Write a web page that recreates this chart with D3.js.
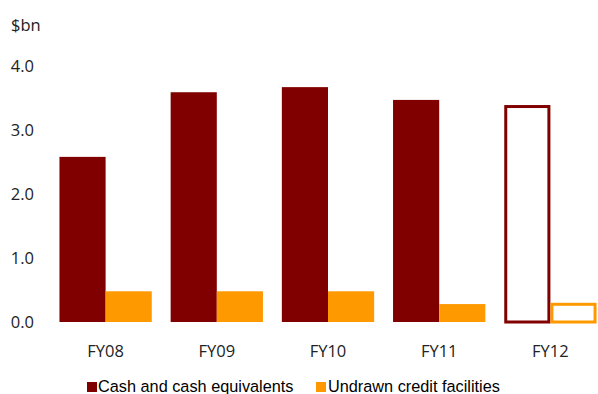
<!DOCTYPE html>
<html><head><meta charset="utf-8">
<script src="https://cdn.jsdelivr.net/npm/d3@7"></script>
<style>body{margin:0;background:#fff}</style>
</head><body>
<svg id="c" width="598" height="394"></svg>
<script>
const categories = ["FY08","FY09","FY10","FY11","FY12"];
const cash = [2.58, 3.59, 3.67, 3.47, 3.39];
const undrawn = [0.48, 0.48, 0.48, 0.28, 0.30];
const forecast = [false, false, false, false, true];
const yTicks = [0, 1, 2, 3, 4];
const seriesNames = ["Cash and cash equivalents", "Undrawn credit facilities"];
const colors = ["#800000", "#FF9900"];

const svg = d3.select("#c");
const x = d3.scaleBand().domain(categories).range([50, 606]).paddingInner(0.17).paddingOuter(0.085);
const y = d3.scaleLinear().domain([0, 4]).range([322, 66]);
const sub = d3.scaleBand().domain([0,1]).range([0, x.bandwidth()]);

const font = "'Open Sans', 'Noto Sans', sans-serif";
const fs = 16.5;

// y axis labels
svg.append("g").selectAll("text").data(yTicks).join("text")
  .attr("x", 34).attr("y", d => y(d)).attr("dy", "0.36em")
  .attr("text-anchor", "end").attr("font-family", font).attr("font-size", fs).attr("fill", "#222")
  .text(d => d.toFixed(1));
svg.append("text").attr("x", 11).attr("y", 31).attr("font-family", font).attr("font-size", fs).attr("fill", "#222").text("$bn");

// x labels
svg.append("g").selectAll("text").data(categories).join("text")
  .attr("x", d => x(d) + x.bandwidth()/2).attr("y", 357)
  .attr("text-anchor", "middle").attr("font-family", font).attr("font-size", fs).attr("fill", "#222")
  .text(d => d);

const series = [cash, undrawn];
series.forEach((vals, si) => {
  svg.append("g").selectAll("rect").data(categories).join("rect")
    .each(function(c, i) {
      const r = d3.select(this);
      const x0 = x(c) + sub(si), w = sub.bandwidth();
      if (forecast[i]) {
        r.attr("x", x0 + 1.5).attr("y", y(vals[i]) + 1.5).attr("width", w - 3).attr("height", y(0) - y(vals[i]) - 1.5)
         .attr("fill", "#fff").attr("stroke", colors[si]).attr("stroke-width", 3);
      } else {
        r.attr("x", x0).attr("y", y(vals[i])).attr("width", w).attr("height", y(0) - y(vals[i]))
         .attr("fill", colors[si]);
      }
    });
});

// legend
const leg = [{x: 87, tx: 98}, {x: 316, tx: 328}];
seriesNames.forEach((n, i) => {
  svg.append("rect").attr("x", leg[i].x).attr("y", 382).attr("width", 10).attr("height", 10).attr("fill", colors[i]);
  svg.append("text").attr("x", leg[i].tx).attr("y", 392).attr("font-family", "'Liberation Sans', Arial, sans-serif")
    .attr("font-size", 16.3).attr("fill", "#000").text(n);
});
</script>
</body></html>
